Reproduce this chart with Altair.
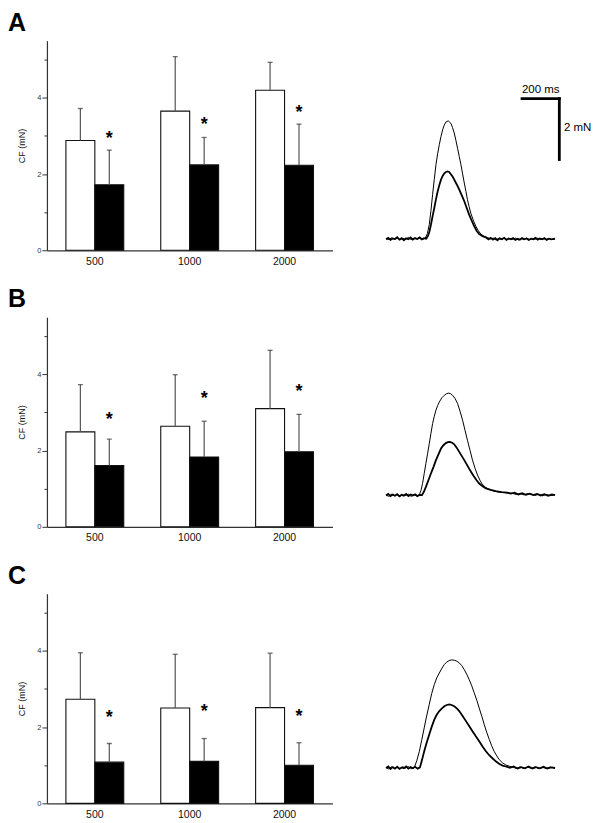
import altair as alt
import pandas as pd

FONT = "Liberation Sans"

# ---------------- bar chart data ----------------
freqs = ["500", "1000", "2000"]
groups = ["open", "filled"]

A_open_mean = [2.88, 3.65, 4.20]
A_open_top = [3.72, 5.08, 4.93]
A_filled_mean = [1.72, 2.24, 2.23]
A_filled_top = [2.63, 2.96, 3.31]
A_star = [3.05, 3.42, 3.72]

B_open_mean = [2.49, 2.64, 3.10]
B_open_top = [3.73, 3.99, 4.63]
B_filled_mean = [1.61, 1.83, 1.97]
B_filled_top = [2.30, 2.77, 2.95]
B_star = [2.94, 3.49, 3.68]

C_open_mean = [2.73, 2.50, 2.51]
C_open_top = [3.95, 3.91, 3.94]
C_filled_mean = [1.08, 1.10, 1.00]
C_filled_top = [1.57, 1.70, 1.59]
C_star = [2.37, 2.52, 2.40]

y_ticks = [0, 1, 2, 3, 4, 5]

# ---------------- force traces (ms, mN) ----------------
A_up_t = [100, 115, 130, 145, 160, 175, 190, 205, 220, 235, 250, 265, 280, 295, 310,
          322, 332, 341, 350, 359, 368, 377, 386, 395, 404, 413, 421, 434, 448, 457, 466, 475, 484,
          493, 502, 511, 520, 529, 537, 546, 555, 568, 582, 596, 609, 627, 645,
          660, 675, 690, 705, 720, 735, 750, 765, 780, 795, 810, 825, 840, 855, 870, 885, 900,
          915, 930, 945, 960, 975, 990, 1007]
A_up_f = [0.38, 0.35, 0.41, 0.36, 0.40, 0.34, 0.39, 0.36, 0.42, 0.35, 0.40, 0.37, 0.41, 0.36, 0.39,
          0.55, 0.84, 1.30, 1.83, 2.33, 2.81, 3.17, 3.47, 3.74, 3.96, 4.12, 4.21, 4.25, 4.17, 4.03, 3.85, 3.61, 3.35,
          3.08, 2.81, 2.51, 2.21, 1.93, 1.66, 1.43, 1.22, 0.99, 0.79, 0.64, 0.53, 0.46, 0.42,
          0.37, 0.40, 0.34, 0.39, 0.36, 0.41, 0.35, 0.39, 0.36, 0.40, 0.34, 0.38, 0.36, 0.40, 0.35, 0.39, 0.36,
          0.40, 0.35, 0.38, 0.36, 0.39, 0.35, 0.37]
A_lo_t = [100, 112, 124, 136, 148, 160, 172, 184, 196, 208, 220, 232, 244, 256, 268, 280, 292, 304, 316,
          326, 333, 341, 350, 359, 368, 377, 386, 395, 404, 413, 421, 430, 439, 448, 457, 466, 479,
          493, 506, 520, 533, 546, 560, 573, 586, 600, 618, 636,
          650, 662, 674, 686, 698, 710, 722, 734, 746, 758, 770, 782, 794, 806, 818, 830, 842, 854,
          866, 878, 890, 902, 914, 926, 938, 950, 962, 974, 986, 1007]
A_lo_f = [0.36, 0.41, 0.34, 0.39, 0.37, 0.43, 0.35, 0.40, 0.33, 0.39, 0.36, 0.42, 0.35, 0.40, 0.37, 0.42, 0.36, 0.40, 0.38,
          0.48, 0.62, 0.84, 1.12, 1.39, 1.67, 1.93, 2.14, 2.32, 2.44, 2.53, 2.57, 2.59, 2.57, 2.50, 2.42, 2.32, 2.17,
          1.99, 1.81, 1.61, 1.39, 1.17, 0.97, 0.79, 0.64, 0.53, 0.46, 0.42,
          0.36, 0.41, 0.35, 0.40, 0.33, 0.39, 0.36, 0.41, 0.34, 0.39, 0.36, 0.40, 0.34, 0.38, 0.35, 0.40, 0.36, 0.39,
          0.34, 0.38, 0.36, 0.41, 0.35, 0.39, 0.36, 0.40, 0.34, 0.38, 0.36, 0.38]

B_up_t = [100, 115, 130, 145, 160, 175, 190, 205, 220, 235, 250, 265, 279,
          288, 296, 305, 314, 323, 332, 341, 350, 359, 368, 377, 386, 400, 413, 424, 436, 447, 457, 470,
          484, 497, 511, 524, 537, 551, 564, 578, 591, 604, 616, 634, 652, 680, 707, 740, 778,
          800, 820, 840, 860, 884, 900, 920, 940, 960, 980, 1007]
B_up_f = [1.04, 1.00, 1.07, 1.02, 1.06, 1.01, 1.05, 1.03, 1.07, 1.00, 1.05, 1.02, 1.05,
          1.20, 1.42, 1.75, 2.08, 2.40, 2.73, 3.07, 3.39, 3.63, 3.83, 3.98, 4.10, 4.24, 4.32, 4.37, 4.39, 4.37, 4.32, 4.22,
          4.05, 3.80, 3.50, 3.17, 2.84, 2.51, 2.19, 1.92, 1.70, 1.53, 1.40, 1.30, 1.23, 1.17, 1.14, 1.12, 1.10,
          1.06, 1.10, 1.05, 1.09, 1.07, 1.03, 1.07, 1.02, 1.06, 1.03, 1.05]
B_lo_t = [100, 112, 124, 136, 148, 160, 172, 184, 196, 208, 220, 232, 244, 256, 268, 280, 293,
          303, 314, 327, 341, 355, 368, 382, 395, 408, 421, 432, 443, 455, 466, 479, 493, 506, 520,
          533, 546, 560, 573, 586, 600, 618, 636, 662, 689, 720, 750,
          770, 790, 810, 830, 850, 870, 890, 910, 930, 950, 970, 990, 1007]
B_lo_f = [1.03, 1.08, 1.01, 1.06, 1.02, 1.07, 1.00, 1.05, 1.02, 1.08, 1.01, 1.06, 1.03, 1.07, 1.01, 1.05, 1.04,
          1.15, 1.31, 1.52, 1.75, 1.97, 2.19, 2.39, 2.57, 2.68, 2.75, 2.78, 2.79, 2.76, 2.71, 2.60, 2.46, 2.33, 2.19,
          2.05, 1.91, 1.77, 1.64, 1.53, 1.42, 1.33, 1.26, 1.21, 1.17, 1.14, 1.12,
          1.09, 1.12, 1.06, 1.10, 1.05, 1.09, 1.04, 1.08, 1.03, 1.07, 1.02, 1.06, 1.04]

C_up_t = [100, 115, 130, 145, 160, 175, 190, 205, 220, 235, 252,
          265, 279, 292, 305, 318, 332, 345, 359, 372, 386, 400, 413, 426, 439, 452, 466, 480,
          493, 507, 520, 533, 546, 560, 573, 587, 600, 614, 627, 640, 654, 667, 680, 694, 707,
          725, 743, 761, 779, 800, 820, 840, 860, 880, 900, 920, 940, 960, 980, 1007]
C_up_f = [1.17, 1.13, 1.20, 1.15, 1.19, 1.14, 1.20, 1.16, 1.21, 1.14, 1.18,
          1.40, 1.71, 2.09, 2.48, 2.87, 3.25, 3.60, 3.90, 4.12, 4.28, 4.44, 4.56, 4.64, 4.69, 4.71, 4.70, 4.67,
          4.61, 4.52, 4.39, 4.24, 4.07, 3.86, 3.63, 3.39, 3.13, 2.86, 2.59, 2.34, 2.10, 1.89, 1.71, 1.56, 1.44,
          1.33, 1.26, 1.22, 1.19, 1.15, 1.20, 1.14, 1.19, 1.15, 1.20, 1.14, 1.18, 1.15, 1.19, 1.16]
C_lo_t = [100, 112, 124, 136, 148, 160, 172, 184, 196, 208, 220, 232, 244, 256, 270, 282,
          293, 305, 318, 332, 345, 359, 372, 386, 400, 413, 426, 439, 452, 466, 480, 493, 511, 529,
          546, 564, 582, 600, 618, 636, 654, 671, 689, 707, 725, 743,
          765, 785, 805, 825, 845, 865, 885, 905, 925, 945, 965, 985, 1007]
C_lo_f = [1.16, 1.21, 1.13, 1.19, 1.14, 1.20, 1.13, 1.18, 1.15, 1.21, 1.14, 1.19, 1.15, 1.20, 1.14, 1.18,
          1.42, 1.71, 1.99, 2.26, 2.51, 2.75, 2.91, 3.03, 3.12, 3.19, 3.23, 3.25, 3.23, 3.19, 3.12, 3.03, 2.87, 2.70,
          2.54, 2.37, 2.20, 2.04, 1.87, 1.71, 1.58, 1.48, 1.38, 1.30, 1.24, 1.21,
          1.17, 1.21, 1.14, 1.19, 1.15, 1.21, 1.14, 1.19, 1.15, 1.20, 1.14, 1.18, 1.16]

# scale bar (panel A): 200 ms horizontal, 2 mN vertical
scale_t = [830, 1030]
scale_f = [2.98, 4.98]
scale_labels = ["200 ms", "2 mN"]
scale_label_t = [930, 1055]
scale_label_f = [5.16, 4.03]

BAR_W, BAR_H = 286, 210
TR_W, TR_H = 224, 210


def bar_panel(label, om, ot, fm, ft, st):
    rows = []
    for i, fq in enumerate(freqs):
        rows.append({"freq": fq, "group": "open", "mean": om[i], "top": ot[i], "star": None})
        rows.append({"freq": fq, "group": "filled", "mean": fm[i], "top": ft[i], "star": st[i]})
    df = pd.DataFrame(rows)
    x = alt.X("freq:N", sort=freqs,
              scale=alt.Scale(paddingInner=0.39, paddingOuter=0.2),
              axis=alt.Axis(title=None, labelAngle=0, ticks=False, tickSize=0, labelPadding=6,
                            labelFontSize=10.5, labelColor="#111", domainColor="#333",
                            domainWidth=1.2, labelFont=FONT))
    xo = alt.XOffset("group:N", sort=groups, scale=alt.Scale(paddingInner=0, paddingOuter=0))
    ys = alt.Scale(domain=[0, 5.5], nice=False, zero=True)
    base = alt.Chart(df).encode(x=x, xOffset=xo)
    bars = base.mark_bar(stroke="#111", strokeWidth=1.1).encode(
        y=alt.Y("mean:Q", scale=ys,
                axis=alt.Axis(title="CF (mN)", values=y_ticks,
                              labelExpr="datum.value % 2 == 0 ? datum.label : ''",
                              tickSize={"condition": {"test": "datum.value % 2 == 1", "value": 3}, "value": 5},
                              labelFontSize=7.5, labelPadding=1, labelColor="#333",
                              titleFontSize=9, titleFontWeight="normal", titlePadding=10,
                              titleColor="#111", grid=False, domainColor="#333", domainWidth=1.2,
                              tickColor="#333", labelFont=FONT, titleFont=FONT)),
        fill=alt.Fill("group:N", scale=alt.Scale(domain=groups, range=["white", "black"]), legend=None),
    )
    err = base.mark_rule(color="#555", strokeWidth=1.2).encode(y=alt.Y("mean:Q", scale=ys), y2="top:Q")
    cap = base.mark_tick(color="#333", size=5, thickness=1.3, orient="horizontal").encode(
        y=alt.Y("top:Q", scale=ys))
    stars = base.transform_filter("datum.group == 'filled'").mark_text(
        text="*", fontSize=18, fontWeight="bold", baseline="alphabetic", dy=10, color="black", font=FONT
    ).encode(y=alt.Y("star:Q", scale=ys))
    return alt.layer(bars, err, cap, stars).properties(
        width=BAR_W, height=BAR_H,
        title=alt.TitleParams(text=label, anchor="start", frame="group", dx=-39, dy=26, offset=11,
                              baseline="alphabetic", align="left", fontSize=25, fontWeight="bold",
                              font=FONT, color="black"),
    )


def trace_panel(up_t, up_f, lo_t, lo_f, scalebar=False):
    xs = alt.Scale(domain=[0, 1200], nice=False, zero=False)
    ys = alt.Scale(domain=[0, 6.885], nice=False, zero=False)
    up = alt.Chart(pd.DataFrame({"t": up_t, "f": up_f})).mark_line(color="black", strokeWidth=1).encode(
        x=alt.X("t:Q", scale=xs, axis=None), y=alt.Y("f:Q", scale=ys, axis=None))
    lo = alt.Chart(pd.DataFrame({"t": lo_t, "f": lo_f})).mark_line(color="black", strokeWidth=1.8).encode(
        x=alt.X("t:Q", scale=xs, axis=None), y=alt.Y("f:Q", scale=ys, axis=None))
    layers = [up, lo]
    if scalebar:
        hbar = alt.Chart(pd.DataFrame({"t": [scale_t[0]], "t2": [scale_t[1]], "f": [scale_f[1]]})).mark_rule(
            color="black", strokeWidth=2.8, strokeCap="square").encode(
            x=alt.X("t:Q", scale=xs, axis=None), x2="t2:Q", y=alt.Y("f:Q", scale=ys, axis=None))
        vbar = alt.Chart(pd.DataFrame({"t": [scale_t[1]], "f": [scale_f[0]], "f2": [scale_f[1]]})).mark_rule(
            color="black", strokeWidth=2.8, strokeCap="square").encode(
            x=alt.X("t:Q", scale=xs, axis=None), y=alt.Y("f:Q", scale=ys, axis=None), y2="f2:Q")
        lab1 = alt.Chart(pd.DataFrame({"t": [scale_label_t[0]], "f": [scale_label_f[0]],
                                       "s": [scale_labels[0]]})).mark_text(
            align="center", baseline="alphabetic", fontSize=11.5, font=FONT, color="black").encode(
            x=alt.X("t:Q", scale=xs, axis=None), y=alt.Y("f:Q", scale=ys, axis=None), text="s:N")
        lab2 = alt.Chart(pd.DataFrame({"t": [scale_label_t[1]], "f": [scale_label_f[1]],
                                       "s": [scale_labels[1]]})).mark_text(
            align="left", baseline="middle", fontSize=11.5, font=FONT, color="black").encode(
            x=alt.X("t:Q", scale=xs, axis=None), y=alt.Y("f:Q", scale=ys, axis=None), text="s:N")
        layers += [hbar, vbar, lab1, lab2]
    return alt.layer(*layers).properties(width=TR_W, height=TR_H)


panels = [
    bar_panel("A", A_open_mean, A_open_top, A_filled_mean, A_filled_top, A_star),
    trace_panel(A_up_t, A_up_f, A_lo_t, A_lo_f, scalebar=True),
    bar_panel("B", B_open_mean, B_open_top, B_filled_mean, B_filled_top, B_star),
    trace_panel(B_up_t, B_up_f, B_lo_t, B_lo_f),
    bar_panel("C", C_open_mean, C_open_top, C_filled_mean, C_filled_top, C_star),
    trace_panel(C_up_t, C_up_f, C_lo_t, C_lo_f),
]

chart = alt.concat(
    *panels, columns=2, spacing={"row": 67, "column": 35}, bounds="flush"
).resolve_scale(
    x="independent", y="independent"
).properties(
    padding={"left": 0, "top": 2, "right": 0, "bottom": 0}
).configure(font=FONT, background="white").configure_view(stroke=None)

chart.save("out.html", embed_options={"renderer": "svg", "actions": False})
